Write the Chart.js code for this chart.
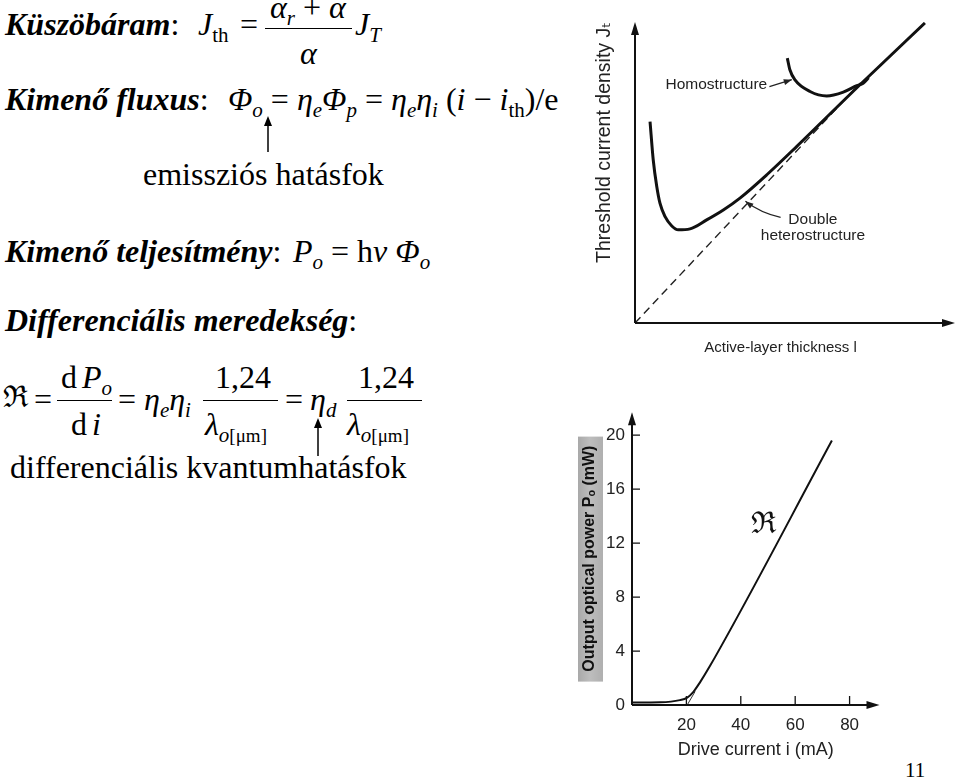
<!DOCTYPE html>
<html><head><meta charset="utf-8">
<script src="https://cdn.jsdelivr.net/npm/chart.js@4.4.1/dist/chart.umd.min.js"></script>
<style>
html,body{margin:0;padding:0;background:#fff;}
body{width:960px;height:782px;position:relative;overflow:hidden;font-family:"Liberation Serif","Times New Roman",serif;color:#000;}
.a{position:absolute;white-space:nowrap;font-size:32px;line-height:1;}
.h{font-weight:bold;font-style:italic;}
.sb{font-size:21px;position:relative;top:7px;}
.sm{font-size:19px;position:relative;top:7px;}
.fl{position:absolute;height:0;border-top:1.6px solid #000;}
canvas{position:absolute;}
</style></head>
<body>
<!-- row 1 -->
<div class="a" style="left:5px;top:8px"><span class="h">Küszöbáram</span>:</div>
<div class="a" style="left:198px;top:8px"><i>J</i><span class="sb">th</span></div>
<div class="a" style="left:240px;top:8px">=</div>
<div class="a" style="left:270px;top:-9px"><i>α</i><span class="sb"><i>r</i></span> + <i>α</i></div>
<div class="fl" style="left:265px;top:28px;width:87px"></div>
<div class="a" style="left:300px;top:37px"><i>α</i></div>
<div class="a" style="left:355px;top:8px"><i>J</i><span class="sb"><i>T</i></span></div>
<!-- row 2 -->
<div class="a" style="left:5px;top:83px"><span class="h">Kimenő fluxus</span>:</div>
<div class="a" style="left:228px;top:83px"><i>Φ</i><span class="sb"><i>o</i></span> = <i>η</i><span class="sb"><i>e</i></span><i>Φ</i><span class="sb"><i>p</i></span> = <i>η</i><span class="sb"><i>e</i></span><i>η</i><span class="sb"><i>i</i></span> (<i>i</i> − <i>i</i><span class="sb">th</span>)/e</div>
<svg style="position:absolute;left:262px;top:116px" width="12" height="36"><line x1="6" y1="8" x2="6" y2="36" stroke="#000" stroke-width="1.5"/><polygon points="6,0 2,10 10,10" fill="#000"/></svg>
<div class="a" style="left:143px;top:158px">emissziós hatásfok</div>
<!-- row 4 -->
<div class="a" style="left:5px;top:235px"><span class="h">Kimenő teljesítmény</span>:</div>
<div class="a" style="left:293px;top:235px"><i>P</i><span class="sb"><i>o</i></span> = h<i>ν</i> <i>Φ</i><span class="sb"><i>o</i></span></div>
<!-- row 5 -->
<div class="a" style="left:5px;top:304px"><span class="h">Differenciális meredekség</span>:</div>
<!-- row 6 -->
<div class="a" style="left:3px;top:382px;font-family:'DejaVu Serif',serif;font-size:30px">ℜ</div>
<div class="a" style="left:34px;top:383px">=</div>
<div class="a" style="left:61px;top:361px">d<span style="margin-left:5px"></span><i>P</i><span class="sb"><i>o</i></span></div>
<div class="fl" style="left:57px;top:400px;width:55px"></div>
<div class="a" style="left:71px;top:408px">d<span style="margin-left:5px"></span><i>i</i></div>
<div class="a" style="left:118px;top:383px">=</div>
<div class="a" style="left:144px;top:383px"><i>η</i><span class="sb"><i>e</i></span><i>η</i><span class="sb"><i>i</i></span></div>
<div class="a" style="left:215px;top:361px">1,24</div>
<div class="fl" style="left:203px;top:400px;width:75px"></div>
<div class="a" style="left:205px;top:408px"><i>λ</i><span class="sb"><i>o</i></span><span class="sm">[μm]</span></div>
<div class="a" style="left:285px;top:383px">=</div>
<div class="a" style="left:310px;top:383px"><i>η</i><span class="sb"><i>d</i></span></div>
<div class="a" style="left:358px;top:361px">1,24</div>
<div class="fl" style="left:347px;top:400px;width:75px"></div>
<div class="a" style="left:347px;top:408px"><i>λ</i><span class="sb"><i>o</i></span><span class="sm">[μm]</span></div>
<svg style="position:absolute;left:312px;top:418px" width="12" height="38"><line x1="6" y1="8" x2="6" y2="38" stroke="#000" stroke-width="1.5"/><polygon points="6,0 2,10 10,10" fill="#000"/></svg>
<div class="a" style="left:10px;top:451px">differenciális kvantumhatásfok</div>
<div class="a" style="left:905px;top:760px;font-size:21px">11</div>

<canvas id="c1" width="370" height="370" style="left:590px;top:0;width:370px;height:370px"></canvas>
<canvas id="c2" width="330" height="375" style="left:570px;top:395px;width:330px;height:375px"></canvas>

<script>
// ---- Threshold current density vs active-layer thickness (arbitrary units) ----
const thicknessDH = [0.47, 0.57, 0.68, 0.78, 0.94, 1.15, 1.35, 1.72, 2.24, 2.76, 3.28, 4.12, 5.05, 7.03, 9.06];
const thresholdDH = [6.29, 5.09, 4.26, 3.74, 3.32, 3.03, 2.91, 2.94, 3.22, 3.53, 3.90, 4.63, 5.51, 7.44, 9.37];
const thicknessHomo = [4.76, 4.84, 5.0, 5.47, 5.99, 6.51, 6.93, 7.13, 7.3];
const thresholdHomo = [8.27, 7.91, 7.59, 7.23, 7.09, 7.21, 7.41, 7.49, 7.66];
const thicknessIdeal = [0, 7.05];
const thresholdIdeal = [0, 7.5];

// ---- Output optical power vs drive current ----
const driveCurrent = [0, 10.3, 17.6, 20.3, 22.5, 25, 28.7, 73.5];
const outputPower = [0.18, 0.2, 0.36, 0.55, 0.96, 1.68, 2.9, 19.6];
const tangentCurrent = [20.3, 23.2];
const tangentPower = [0, 1.0];
const powerTicks = [0, 4, 8, 12, 16, 20];
const currentTicks = [20, 40, 60, 80];

const pts = (xs, ys) => xs.map((v, i) => ({x: v, y: ys[i]}));
const SANS = '"Liberation Sans", "DejaVu Sans", Arial, sans-serif';

function arrowHead(ctx, x, y, dir, len, half) {
  ctx.beginPath();
  if (dir === 'right') { ctx.moveTo(x, y); ctx.lineTo(x - len, y - half); ctx.lineTo(x - len, y + half); }
  else if (dir === 'up') { ctx.moveTo(x, y); ctx.lineTo(x - half, y + len); ctx.lineTo(x + half, y + len); }
  ctx.closePath(); ctx.fill();
}

const axesPlugin = {
  id: 'axesPlugin',
  afterDatasetsDraw(chart, args, o) {
    const {ctx, scales: {x, y}} = chart;
    const x0 = x.getPixelForValue(0), y0 = y.getPixelForValue(0);
    const xe = x.getPixelForValue(o.xArrow), ye = y.getPixelForValue(o.yArrow);
    ctx.save();
    ctx.strokeStyle = '#111'; ctx.fillStyle = '#111'; ctx.lineWidth = o.lw;
    ctx.beginPath();
    ctx.moveTo(x0, y0); ctx.lineTo(xe - 4, y0);
    ctx.moveTo(x0, y0); ctx.lineTo(x0, ye + 4);
    ctx.stroke();
    arrowHead(ctx, xe, y0, 'right', 13, 4);
    arrowHead(ctx, x0, ye, 'up', 13, 4);
    if (o.inwardTicks) {
      ctx.lineWidth = 1.3;
      ctx.beginPath();
      y.ticks.forEach(t => { if (t.value !== 0) { const p = y.getPixelForValue(t.value); ctx.moveTo(x0, p); ctx.lineTo(x0 + 8, p); } });
      x.ticks.forEach(t => { if (t.value !== 0) { const p = x.getPixelForValue(t.value); ctx.moveTo(p, y0); ctx.lineTo(p, y0 - 9); } });
      ctx.stroke();
    }
    ctx.restore();
  }
};

// annotations for threshold chart
const annoPlugin1 = {
  id: 'anno1',
  afterDraw(chart, args, o) {
    const {ctx, scales: {x, y}} = chart;
    const P = (p) => [x.getPixelForValue(p[0]), y.getPixelForValue(p[1])];
    ctx.save();
    ctx.fillStyle = '#222'; ctx.strokeStyle = '#222';
    ctx.font = '15.5px ' + SANS;
    ctx.textBaseline = 'middle';
    let [tx, ty] = P(o.homoText);
    ctx.textAlign = 'right'; ctx.fillText('Homostructure', tx, ty);
    [tx, ty] = P(o.dhText1);
    ctx.textAlign = 'center'; ctx.fillText('Double', tx, ty);
    [tx, ty] = P(o.dhText2);
    ctx.fillText('heterostructure', tx, ty);
    ctx.lineWidth = 1.2;
    // homostructure arrow
    let [ax, ay] = P(o.homoArrowFrom), [bx, by] = P(o.homoArrowTo);
    ctx.beginPath(); ctx.moveTo(ax, ay); ctx.lineTo(bx, by); ctx.stroke();
    let ang = Math.atan2(by - ay, bx - ax);
    ctx.beginPath(); ctx.moveTo(bx, by);
    ctx.lineTo(bx - 8 * Math.cos(ang) + 3 * Math.sin(ang), by - 8 * Math.sin(ang) - 3 * Math.cos(ang));
    ctx.lineTo(bx - 8 * Math.cos(ang) - 3 * Math.sin(ang), by - 8 * Math.sin(ang) + 3 * Math.cos(ang));
    ctx.closePath(); ctx.fill();
    // DH arrow (curved)
    const [cx1, cy1] = P(o.dhArrowFrom), [qx, qy] = P(o.dhArrowCtrl), [dx, dy] = P(o.dhArrowTo);
    ctx.beginPath(); ctx.moveTo(cx1, cy1); ctx.quadraticCurveTo(qx, qy, dx, dy); ctx.stroke();
    ang = Math.atan2(dy - qy, dx - qx);
    ctx.beginPath(); ctx.moveTo(dx, dy);
    ctx.lineTo(dx - 8 * Math.cos(ang) + 3 * Math.sin(ang), dy - 8 * Math.sin(ang) - 3 * Math.cos(ang));
    ctx.lineTo(dx - 8 * Math.cos(ang) - 3 * Math.sin(ang), dy - 8 * Math.sin(ang) + 3 * Math.cos(ang));
    ctx.closePath(); ctx.fill();
    ctx.restore();
  }
};

new Chart(document.getElementById('c1'), {
  type: 'scatter',
  data: {
    datasets: [
      {data: pts(thicknessDH, thresholdDH), showLine: true, borderColor: '#111', borderWidth: 3, pointRadius: 0, cubicInterpolationMode: 'monotone'},
      {data: pts(thicknessHomo, thresholdHomo), showLine: true, borderColor: '#111', borderWidth: 3, pointRadius: 0, cubicInterpolationMode: 'monotone'},
      {data: pts(thicknessIdeal, thresholdIdeal), showLine: true, borderColor: '#222', borderWidth: 1.4, borderDash: [8, 5], pointRadius: 0}
    ]
  },
  options: {
    responsive: false, animation: false, devicePixelRatio: 1,
    layout: {padding: {left: 0, right: 33.8, top: 22, bottom: 0}},
    plugins: {
      legend: {display: false}, tooltip: {enabled: false},
      axesPlugin: {xArrow: 10, yArrow: 9.4, lw: 2},
      anno1: {
        homoText: [4.13, 7.44], homoArrowFrom: [4.2, 7.38], homoArrowTo: [4.9, 7.6],
        dhText1: [5.56, 3.22], dhText2: [5.56, 2.72],
        dhArrowFrom: [4.55, 3.3], dhArrowCtrl: [3.95, 3.42], dhArrowTo: [3.45, 3.8]
      }
    },
    scales: {
      x: {type: 'linear', min: 0, max: 9.1, grid: {display: false, drawTicks: false}, border: {display: false},
          ticks: {display: false},
          title: {display: true, text: 'Active-layer thickness l', color: '#222', font: {family: SANS, size: 15}, padding: {top: 0, bottom: 13}},
          afterFit: s => { s.height = 47; }},
      y: {min: 0, max: 9.4, grid: {display: false, drawTicks: false}, border: {display: false},
          ticks: {display: false},
          title: {display: true, text: 'Threshold current density Jₜ', align: 'end', color: '#222', font: {family: SANS, size: 19.5}, padding: {top: 3.3, bottom: 0}},
          afterFit: s => { s.width = 45; }}
    }
  },
  plugins: [axesPlugin, annoPlugin1]
});

const boxPlugin = {
  id: 'boxPlugin',
  beforeDraw(chart) {
    const {ctx, chartArea: a} = chart;
    const cy = (a.top + a.bottom) / 2;
    ctx.save();
    const g = ctx.createLinearGradient(8, 0, 32, 0);
    g.addColorStop(0, '#a9a9a9'); g.addColorStop(0.5, '#bdbdbd'); g.addColorStop(1, '#b0b0b0');
    ctx.fillStyle = g;
    ctx.fillRect(8, cy - 122, 25, 245);
    ctx.restore();
  },
  afterDraw(chart, args, o) {
    const {ctx, scales: {x, y}} = chart;
    ctx.save();
    ctx.fillStyle = '#111';
    ctx.font = '30px "DejaVu Serif", serif';
    ctx.textAlign = 'center'; ctx.textBaseline = 'middle';
    ctx.fillText('ℜ', x.getPixelForValue(o.label[0]), y.getPixelForValue(o.label[1]));
    ctx.restore();
  }
};

new Chart(document.getElementById('c2'), {
  type: 'scatter',
  data: {
    datasets: [
      {data: pts(driveCurrent, outputPower), showLine: true, borderColor: '#111', borderWidth: 2, pointRadius: 0, cubicInterpolationMode: 'monotone'},
      {data: pts(tangentCurrent, tangentPower), showLine: true, borderColor: '#333', borderWidth: 1, pointRadius: 0}
    ]
  },
  options: {
    responsive: false, animation: false, devicePixelRatio: 1,
    layout: {padding: {left: 0, right: 20.5, top: 8.4, bottom: 0}},
    plugins: {
      legend: {display: false}, tooltip: {enabled: false},
      axesPlugin: {xArrow: 91, yArrow: 21.7, lw: 2, inwardTicks: true},
      boxPlugin: {label: [48.2, 13.3]}
    },
    scales: {
      x: {type: 'linear', min: 0, max: 91, grid: {display: false, drawTicks: false}, border: {display: false},
          afterBuildTicks: s => { s.ticks = currentTicks.map(v => ({value: v})); },
          ticks: {color: '#222', font: {family: SANS, size: 17}, padding: 10, maxRotation: 0},
          title: {display: true, text: 'Drive current i (mA)', color: '#222', font: {family: SANS, size: 18}, padding: {top: 0, bottom: 9}},
          afterFit: s => { s.height = 65; }},
      y: {min: 0, max: 21.7, grid: {display: false, drawTicks: false}, border: {display: false},
          afterBuildTicks: s => { s.ticks = powerTicks.map(v => ({value: v})); },
          ticks: {color: '#222', font: {family: SANS, size: 17}, padding: 7},
          title: {display: true, text: 'Output optical power Pₒ (mW)', color: '#111', font: {family: SANS, size: 16, weight: 'bold'}, padding: {top: 10.4, bottom: 0}},
          afterFit: s => { s.width = 62; }}
    }
  },
  plugins: [axesPlugin, boxPlugin]
});
</script>
</body></html>
